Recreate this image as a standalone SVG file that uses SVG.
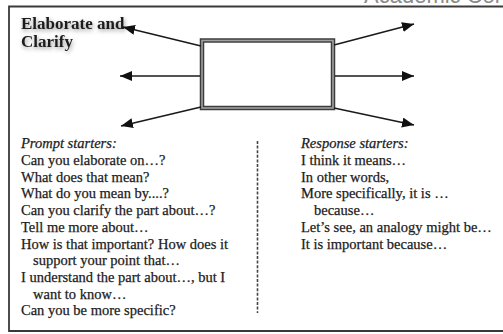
<svg xmlns="http://www.w3.org/2000/svg" width="503" height="334" viewBox="0 0 503 334">
  <style>
    .body { font-family: "Liberation Serif", "Times New Roman", serif; font-size: 14.5px; fill: #1c1c1c; stroke: #1c1c1c; stroke-width: 0.25; }
    .head { font-style: italic; }
    .title { font-family: "Liberation Serif", "Times New Roman", serif; font-size: 17px; font-weight: bold; fill: #1c1c1c; }
    .banner { font-family: "Liberation Sans", Arial, sans-serif; font-size: 22px; fill: #8a8a8a; }
    .frame { fill: none; stroke: #3a3a3a; stroke-width: 1.8; }
    .arrow { fill: none; stroke: #1a1a1a; stroke-width: 1.6; marker-end: url(#head); }
    .divider { fill: none; stroke: #444; stroke-width: 1.6; stroke-dasharray: 3 1.6; }
  </style>
  <defs>
    <marker id="head" markerUnits="userSpaceOnUse" markerWidth="14" markerHeight="12" refX="12" refY="5" orient="auto">
      <path d="M0,0 L12,5 L0,10 Z" fill="#111"/>
    </marker>
    <filter id="glow" x="-20%" y="-40%" width="140%" height="180%">
      <feDropShadow dx="1" dy="2" stdDeviation="2.2" flood-color="#000" flood-opacity="0.4"/>
    </filter>
  </defs>

  <rect width="503" height="334" fill="#fff"/>

  <!-- running header, clipped by the page top -->
  <text class="banner" x="364" y="3">Academic Conversations</text>

  <!-- page frame (open on the right) -->
  <path class="frame" d="M503,6.5 H9 V331 H503"/>

  <g id="title">
    <text class="title" x="21" y="29" filter="url(#glow)">Elaborate and</text>
    <text class="title" x="21" y="47" filter="url(#glow)">Clarify</text>
  </g>

  <g id="center-box">
    <rect x="202" y="40.5" width="131" height="67.5" fill="#fff" stroke="#3c3c3c" stroke-width="4.5"/>
    <rect x="202" y="40.5" width="131" height="67.5" fill="none" stroke="#a0a0a0" stroke-width="1.6"/>
  </g>

  <g id="connectors">
    <line class="arrow" x1="201" y1="46" x2="123" y2="27"/>
    <line class="arrow" x1="200" y1="76" x2="120" y2="76"/>
    <line class="arrow" x1="201" y1="107" x2="121" y2="126"/>
    <line class="arrow" x1="334" y1="45" x2="414" y2="24"/>
    <line class="arrow" x1="335" y1="76" x2="414" y2="76"/>
    <line class="arrow" x1="334" y1="108" x2="414" y2="125"/>
    <line class="divider" x1="257.5" y1="141" x2="257.5" y2="313"/>
  </g>

  <g id="prompt-starters" class="body">
    <text class="head" x="21" y="148">Prompt starters:</text>
    <text x="21" y="165">Can you elaborate on…?</text>
    <text x="21" y="181.7">What does that mean?</text>
    <text x="21" y="198.4">What do you mean by....?</text>
    <text x="21" y="215.1">Can you clarify the part about…?</text>
    <text x="21" y="231.8">Tell me more about…</text>
    <text x="21" y="248.5">How is that important? How does it</text>
    <text x="33" y="265.2">support your point that…</text>
    <text x="21" y="281.9">I understand the part about…, but I</text>
    <text x="33" y="298.6">want to know…</text>
    <text x="21" y="315.3">Can you be more specific?</text>
  </g>

  <g id="response-starters" class="body">
    <text class="head" x="301" y="148">Response starters:</text>
    <text x="301" y="165">I think it means…</text>
    <text x="301" y="181.7">In other words,</text>
    <text x="301" y="198.4">More specifically, it is …</text>
    <text x="314" y="215.1">because…</text>
    <text x="301" y="231.8">Let’s see, an analogy might be…</text>
    <text x="301" y="248.5">It is important because…</text>
  </g>
</svg>
